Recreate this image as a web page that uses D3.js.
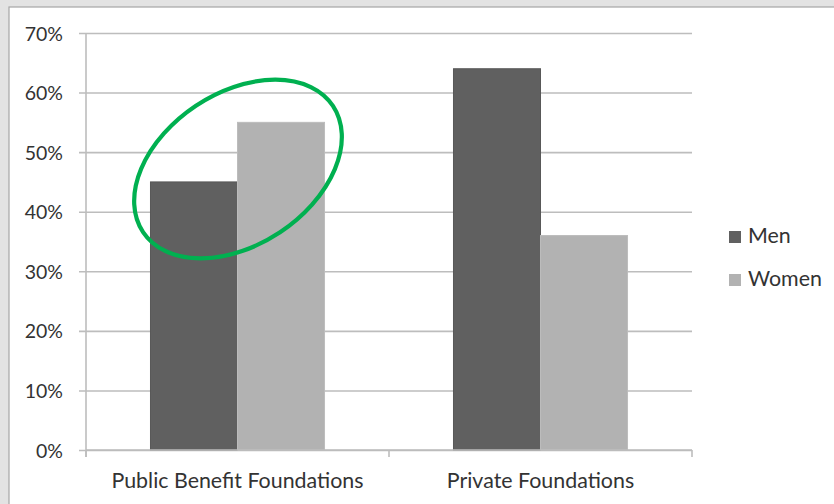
<!DOCTYPE html>
<html><head><meta charset="utf-8">
<script src="https://cdn.jsdelivr.net/npm/d3@7"></script>
<style>html,body{margin:0;padding:0;background:#e3e3e3;}svg{display:block;}</style>
</head><body>
<svg id="c" width="834" height="504"></svg>
<script>
const categories = ["Public Benefit Foundations", "Private Foundations"];
const seriesNames = ["Men", "Women"];
const men = [0.45, 0.64];
const women = [0.55, 0.36];
const yTicks = [0, 0.1, 0.2, 0.3, 0.4, 0.5, 0.6, 0.7];
const seriesColors = ["#606060", "#b2b2b2"];

const svg = d3.select("#c");
const FONT = "Lato, 'Open Sans', sans-serif";
const TXT = "#333333";

// chart panel
svg.append("rect").attr("x", 0).attr("y", 0).attr("width", 834).attr("height", 504).attr("fill", "#e3e3e3");
svg.append("rect").attr("x", 9).attr("y", 7).attr("width", 840).attr("height", 520)
  .attr("fill", "#ffffff").attr("stroke", "#a6a6a6").attr("stroke-width", 1.2);

const x0 = d3.scaleBand().domain(categories).range([86, 692]).paddingInner(0).paddingOuter(0);
const x1 = d3.scaleBand().domain(seriesNames).range([0, x0.bandwidth()]).paddingInner(0).paddingOuter(0.741);
const y = d3.scaleLinear().domain([0, 0.7]).range([450, 33]);
const color = d3.scaleOrdinal().domain(seriesNames).range(seriesColors);

// gridlines
const yAxis = d3.axisLeft(y).tickValues(yTicks).tickFormat(d3.format(".0%"))
  .tickSize(-(692 - 79)).tickPadding(16);
const gy = svg.append("g").attr("transform", "translate(79,0)").call(yAxis);
gy.select(".domain").remove();
gy.selectAll(".tick line").attr("stroke", "#bdbdbd").attr("stroke-width", 1.6);
gy.selectAll(".tick text").attr("x", 63 - 79).attr("dy", "0.36em").attr("fill", TXT)
  .style("font-family", FONT).style("font-size", "19.5px");

// bars
const data = categories.map((c, i) => ({cat: c, vals: [{s: "Men", v: men[i]}, {s: "Women", v: women[i]}]}));
const groups = svg.append("g").selectAll("g").data(data).join("g")
  .attr("transform", d => `translate(${x0(d.cat)},0)`);
groups.selectAll("rect").data(d => d.vals).join("rect")
  .attr("x", d => x1(d.s)).attr("width", x1.bandwidth())
  .attr("y", d => y(d.v)).attr("height", d => y(0) - y(d.v))
  .attr("fill", d => color(d.s))
  .attr("stroke", d => d.s === "Men" ? "#585858" : "#bcbcbc").attr("stroke-width", 1);

// y axis line
svg.append("line").attr("x1", 86).attr("x2", 86).attr("y1", 33).attr("y2", 457)
  .attr("stroke", "#bdbdbd").attr("stroke-width", 1.6);

// x axis
const xAxis = d3.axisBottom(x0).tickSize(0).tickPadding(0);
const gx = svg.append("g").attr("transform", "translate(0,450)").call(xAxis);
gx.select(".domain").attr("stroke", "#bdbdbd").attr("stroke-width", 1.6).attr("d", "M86,0H692");
gx.selectAll(".tick text").attr("y", 37.5).attr("dy", 0).attr("fill", TXT)
  .style("font-family", FONT).style("font-size", "21.4px");
// category boundary ticks
const bounds = [86, x0(categories[1]), 692];
gx.selectAll("line.bt").data(bounds).join("line").attr("class", "bt")
  .attr("x1", d => d).attr("x2", d => d).attr("y1", 0).attr("y2", 7)
  .attr("stroke", "#bdbdbd").attr("stroke-width", 1.6);

// legend
const lg = svg.append("g").selectAll("g").data(seriesNames).join("g")
  .attr("transform", (d, i) => `translate(729,${231 + i * 43})`);
lg.append("rect").attr("width", 12).attr("height", 12).attr("fill", d => color(d));
lg.append("text").attr("x", 19).attr("y", 12).text(d => d).attr("fill", TXT)
  .style("font-family", FONT).style("font-size", "21.4px");

// highlight ellipse
svg.append("ellipse").attr("cx", 0).attr("cy", 0).attr("rx", 114).attr("ry", 76)
  .attr("transform", "translate(238,169) rotate(-33.6)")
  .attr("fill", "none").attr("stroke", "#00b050").attr("stroke-width", 4.2);
</script>
</body></html>
